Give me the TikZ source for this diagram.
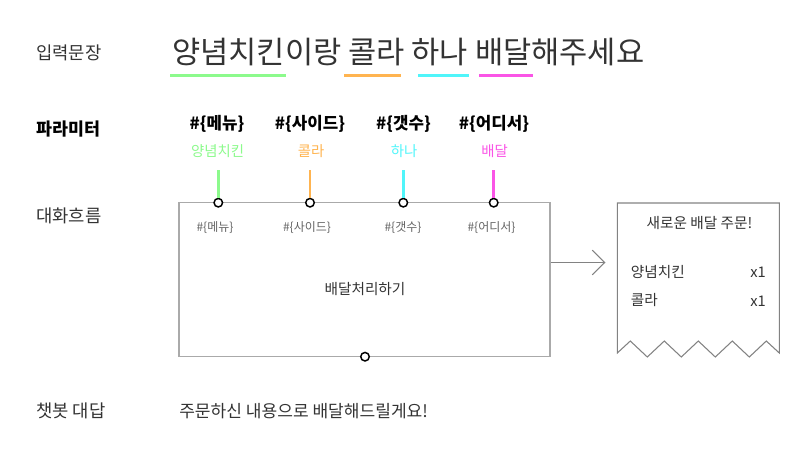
\documentclass[tikz,border=0pt]{standalone}
\usepackage{fontspec}
\setmainfont{Noto Sans CJK KR}
\usetikzlibrary{arrows.meta}
\definecolor{cgreen}{RGB}{140,250,140}
\definecolor{corange}{RGB}{255,180,80}
\definecolor{ccyan}{RGB}{80,245,250}
\definecolor{cmagenta}{RGB}{250,85,230}
\definecolor{txtdark}{RGB}{51,51,51}
\definecolor{txtgray}{RGB}{100,100,100}
\definecolor{boxgray}{RGB}{170,170,170}
\definecolor{rcptgray}{RGB}{130,130,130}
\begin{document}
\begin{tikzpicture}[x=0.75pt,y=-0.75pt,
  lbl/.style={font=\fontsize{13.3}{15}\selectfont, text=txtdark, anchor=west, inner sep=0},
  big/.style={font=\fontsize{23}{26}\selectfont, text=txtdark, anchor=west, inner sep=0},
  param/.style={font=\bfseries\fontsize{12.6}{15}\selectfont, text=black, inner sep=0},
  val/.style={font=\fontsize{10.8}{13}\selectfont, inner sep=0},
  inlbl/.style={font=\fontsize{9}{11}\selectfont, text=txtgray, inner sep=0},
  body/.style={font=\fontsize{11}{13}\selectfont, text=txtdark, inner sep=0},
  uline/.style={line width=2pt},
  stem/.style={line width=2pt},
  port/.style={circle, draw=black, fill=white, line width=1.1pt, minimum size=6.4pt, inner sep=0},
  flowbox/.style={draw=boxgray, line width=1.1pt, minimum width=278.25pt, minimum height=115.5pt, inner sep=0},
  arr/.style={draw=rcptgray, line width=0.8pt, -{Straight Barb[length=9.4pt,width=18.5pt]}},
  rcpt/.style={draw=rcptgray, line width=0.8pt, line join=miter}
]
\useasboundingbox (0,0) rectangle (800,458);

% left labels
\node[lbl] (lin) at (36,53) {입력문장};
\node[lbl, font=\bfseries\fontsize{13}{15}\selectfont, text=black] (lparam) at (36,129) {파라미터};
\node[lbl] (lflow) at (36,216) {대화흐름};
\node[lbl] (lans) at (36,411) {챗봇 대답};

% input sentence
\node[big] (sent) at (172,52) {양념치킨이랑 콜라 하나 배달해주세요};
\draw[uline, cgreen] (170,75.5) -- (286,75.5);
\draw[uline, corange] (344,75.5) -- (401,75.5);
\draw[uline, ccyan] (418,75.5) -- (469,75.5);
\draw[uline, cmagenta] (479,75.5) -- (533,75.5);

% parameters
\node[param] (p1) at (217,124) {\#\{메뉴\}};
\node[param] (p2) at (310,124) {\#\{사이드\}};
\node[param] (p3) at (403.5,124) {\#\{갯수\}};
\node[param] (p4) at (494,124) {\#\{어디서\}};
\node[val, text=cgreen] (v1) at (217.5,151) {양념치킨};
\node[val, text=corange] (v2) at (311,151) {콜라};
\node[val, text=ccyan] (v3) at (404,151) {하나};
\node[val, text=cmagenta] (v4) at (494.5,151) {배달};

% flow box
\node[flowbox] (flow) at (364.5,279.7) {};
\node[inlbl] (i1) at (215,228) {\#\{메뉴\}};
\node[inlbl] (i2) at (307,228) {\#\{사이드\}};
\node[inlbl] (i3) at (403,228) {\#\{갯수\}};
\node[inlbl] (i4) at (491.5,228) {\#\{어디서\}};
\node[body] (proc) at (365,289) {배달처리하기};

% stems and ports
\coordinate (t1) at (218.3,170);
\coordinate (t2) at (310,170);
\coordinate (t3) at (403.3,170);
\coordinate (t4) at (493.7,170);
\node[port] (c1) at (218.3,202.7) {};
\node[port] (c2) at (310,202.7) {};
\node[port] (c3) at (403.3,202.7) {};
\node[port] (c4) at (493.7,202.7) {};
\draw[stem, cgreen] (t1) -- (c1.north);
\draw[stem, corange] (t2) -- (c2.north);
\draw[stem, ccyan] (t3) -- (c3.north);
\draw[stem, cmagenta] (t4) -- (c4.north);
\node[port] (cb) at (365,356.7) {};

% arrow
\coordinate (atip) at (605.5,262.5);
\draw[arr] (flow.east |- atip) -- (atip);

% receipt
\draw[rcpt] (617.3,353) -- (617.3,203) -- (779.3,203) -- (779.3,353)
  -- (766.3,341) -- (749.3,357) -- (732.3,341) -- (715.3,357) -- (698.3,341)
  -- (681.3,357) -- (664.3,341) -- (647.3,357) -- (630.3,341) -- cycle;
\node[body] (rtitle) at (699.5,223) {새로운 배달 주문!};
\node[body, anchor=west] (r1) at (630.5,272) {양념치킨};
\node[body, anchor=east] (q1) at (766,272.5) {x1};
\node[body, anchor=west] (r2) at (630.5,300) {콜라};
\node[body, anchor=east] (q2) at (766,301) {x1};

% answer
\node[lbl, font=\fontsize{12.8}{15}\selectfont] (ans) at (179,411) {주문하신 내용으로 배달해드릴게요!};
\end{tikzpicture}
\end{document}
